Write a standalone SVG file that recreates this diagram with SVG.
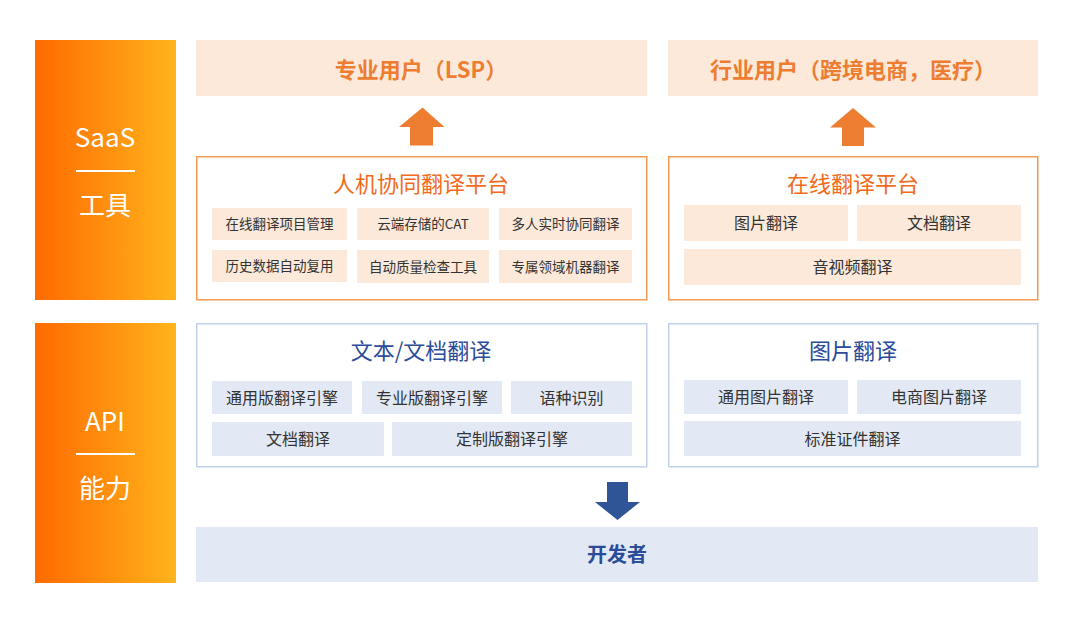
<svg xmlns="http://www.w3.org/2000/svg" width="1073" height="619" viewBox="0 0 1073 619">
<defs>
<linearGradient id="g" x1="0" y1="0" x2="1" y2="0">
<stop offset="0" stop-color="#FF6A00"/>
<stop offset="1" stop-color="#FFB41C"/>
</linearGradient>
</defs>
<style>
text{font-family:"Noto Sans CJK SC","Liberation Sans",sans-serif;text-anchor:middle;dominant-baseline:central}
.side{fill:url(#g)}
.st{fill:#fff;font-size:26px}
.top{fill:#FCE9DA}
.topt{fill:#ED7D31;font-size:22px;font-weight:bold}
.ob{fill:#fff;stroke:#F39A55;stroke-width:1.5}
.ot{fill:#F26A1B;font-size:22px}
.os{fill:#FCE9DA}
.bb{fill:#fff;stroke:#C3D2EC;stroke-width:1.5}
.bt{fill:#2B4C9B;font-size:22px}
.bs{fill:#E2E9F5}
.s{fill:#333;font-size:13.5px}
.m{fill:#333;font-size:16px}
</style>
<g id="saas-bar">
<rect class="side" x="35" y="40" width="141" height="260"/>
<text class="st" x="105" y="135">SaaS</text>
<rect x="76" y="170" width="59" height="2" fill="#fff"/>
<text class="st" x="105" y="203">工具</text>
</g>
<g id="api-bar">
<rect class="side" x="35" y="323" width="141" height="260"/>
<text class="st" x="105" y="419">API</text>
<rect x="76" y="453" width="59" height="2" fill="#fff"/>
<text class="st" x="105" y="486">能力</text>
</g>
<g id="lsp">
<rect class="top" x="196" y="40" width="451" height="56"/>
<text class="topt" x="421" y="67.5">专业用户（LSP）</text>
</g>
<g id="industry">
<rect class="top" x="668" y="40" width="370" height="56"/>
<text class="topt" x="853" y="67.5">行业用户（跨境电商，医疗）</text>
</g>
<g id="hmt-platform">
<rect class="ob" x="196.75" y="156.75" width="450" height="143"/>
<text class="ot" x="421" y="181.5">人机协同翻译平台</text>
<rect class="os" x="212" y="208" width="135" height="32"/>
<text class="s" x="279.5" y="223">在线翻译项目管理</text>
<rect class="os" x="357" y="208" width="132" height="32"/>
<text class="s" x="423" y="223">云端存储的CAT</text>
<rect class="os" x="499" y="208" width="133" height="32"/>
<text class="s" x="565.5" y="223">多人实时协同翻译</text>
<rect class="os" x="212" y="250" width="135" height="32"/>
<text class="s" x="279.5" y="265">历史数据自动复用</text>
<rect class="os" x="357" y="250" width="132" height="33"/>
<text class="s" x="423" y="265.5">自动质量检查工具</text>
<rect class="os" x="499" y="250" width="133" height="33"/>
<text class="s" x="565.5" y="265.5">专属领域机器翻译</text>
</g>
<g id="online-platform">
<rect class="ob" x="668.75" y="156.75" width="369" height="143"/>
<text class="ot" x="853" y="181.5">在线翻译平台</text>
<rect class="os" x="684" y="205" width="164" height="36"/>
<text class="m" x="766" y="222">图片翻译</text>
<rect class="os" x="857" y="205" width="164" height="36"/>
<text class="m" x="939" y="222">文档翻译</text>
<rect class="os" x="684" y="249" width="337" height="36"/>
<text class="m" x="852.5" y="266">音视频翻译</text>
</g>
<g id="text-doc">
<rect class="bb" x="196.75" y="323.75" width="450" height="143"/>
<text class="bt" x="421" y="348.5">文本/文档翻译</text>
<rect class="bs" x="212" y="381" width="140" height="33"/>
<text class="m" x="282" y="396.5">通用版翻译引擎</text>
<rect class="bs" x="362" y="381" width="140" height="33"/>
<text class="m" x="432" y="396.5">专业版翻译引擎</text>
<rect class="bs" x="511" y="381" width="121" height="33"/>
<text class="m" x="571.5" y="396.5">语种识别</text>
<rect class="bs" x="212" y="422" width="172" height="34"/>
<text class="m" x="298" y="438">文档翻译</text>
<rect class="bs" x="392" y="422" width="240" height="34"/>
<text class="m" x="512" y="438">定制版翻译引擎</text>
</g>
<g id="image-trans">
<rect class="bb" x="668.75" y="323.75" width="369" height="143"/>
<text class="bt" x="853" y="348.5">图片翻译</text>
<rect class="bs" x="684" y="380" width="164" height="34"/>
<text class="m" x="766" y="396">通用图片翻译</text>
<rect class="bs" x="857" y="380" width="164" height="34"/>
<text class="m" x="939" y="396">电商图片翻译</text>
<rect class="bs" x="684" y="421" width="337" height="35"/>
<text class="m" x="852.5" y="437.5">标准证件翻译</text>
</g>
<g id="developer">
<rect class="bs" x="196" y="527" width="842" height="55"/>
<text x="617" y="553.5" fill="#2B4C9B" font-size="20" font-weight="bold">开发者</text>
</g>
<g id="connectors">
<polygon points="422.5,107.5 444.5,127 433,127 433,145.5 410,145.5 410,127 399,127" fill="#ED7D31"/>
<polygon points="853,108 876,127.5 864,127.5 864,146 842,146 842,127.5 830,127.5" fill="#ED7D31"/>
<polygon points="607,482 628,482 628,502 640,502 617.5,520 595,502 607,502" fill="#2F5597"/>
</g>
</svg>
